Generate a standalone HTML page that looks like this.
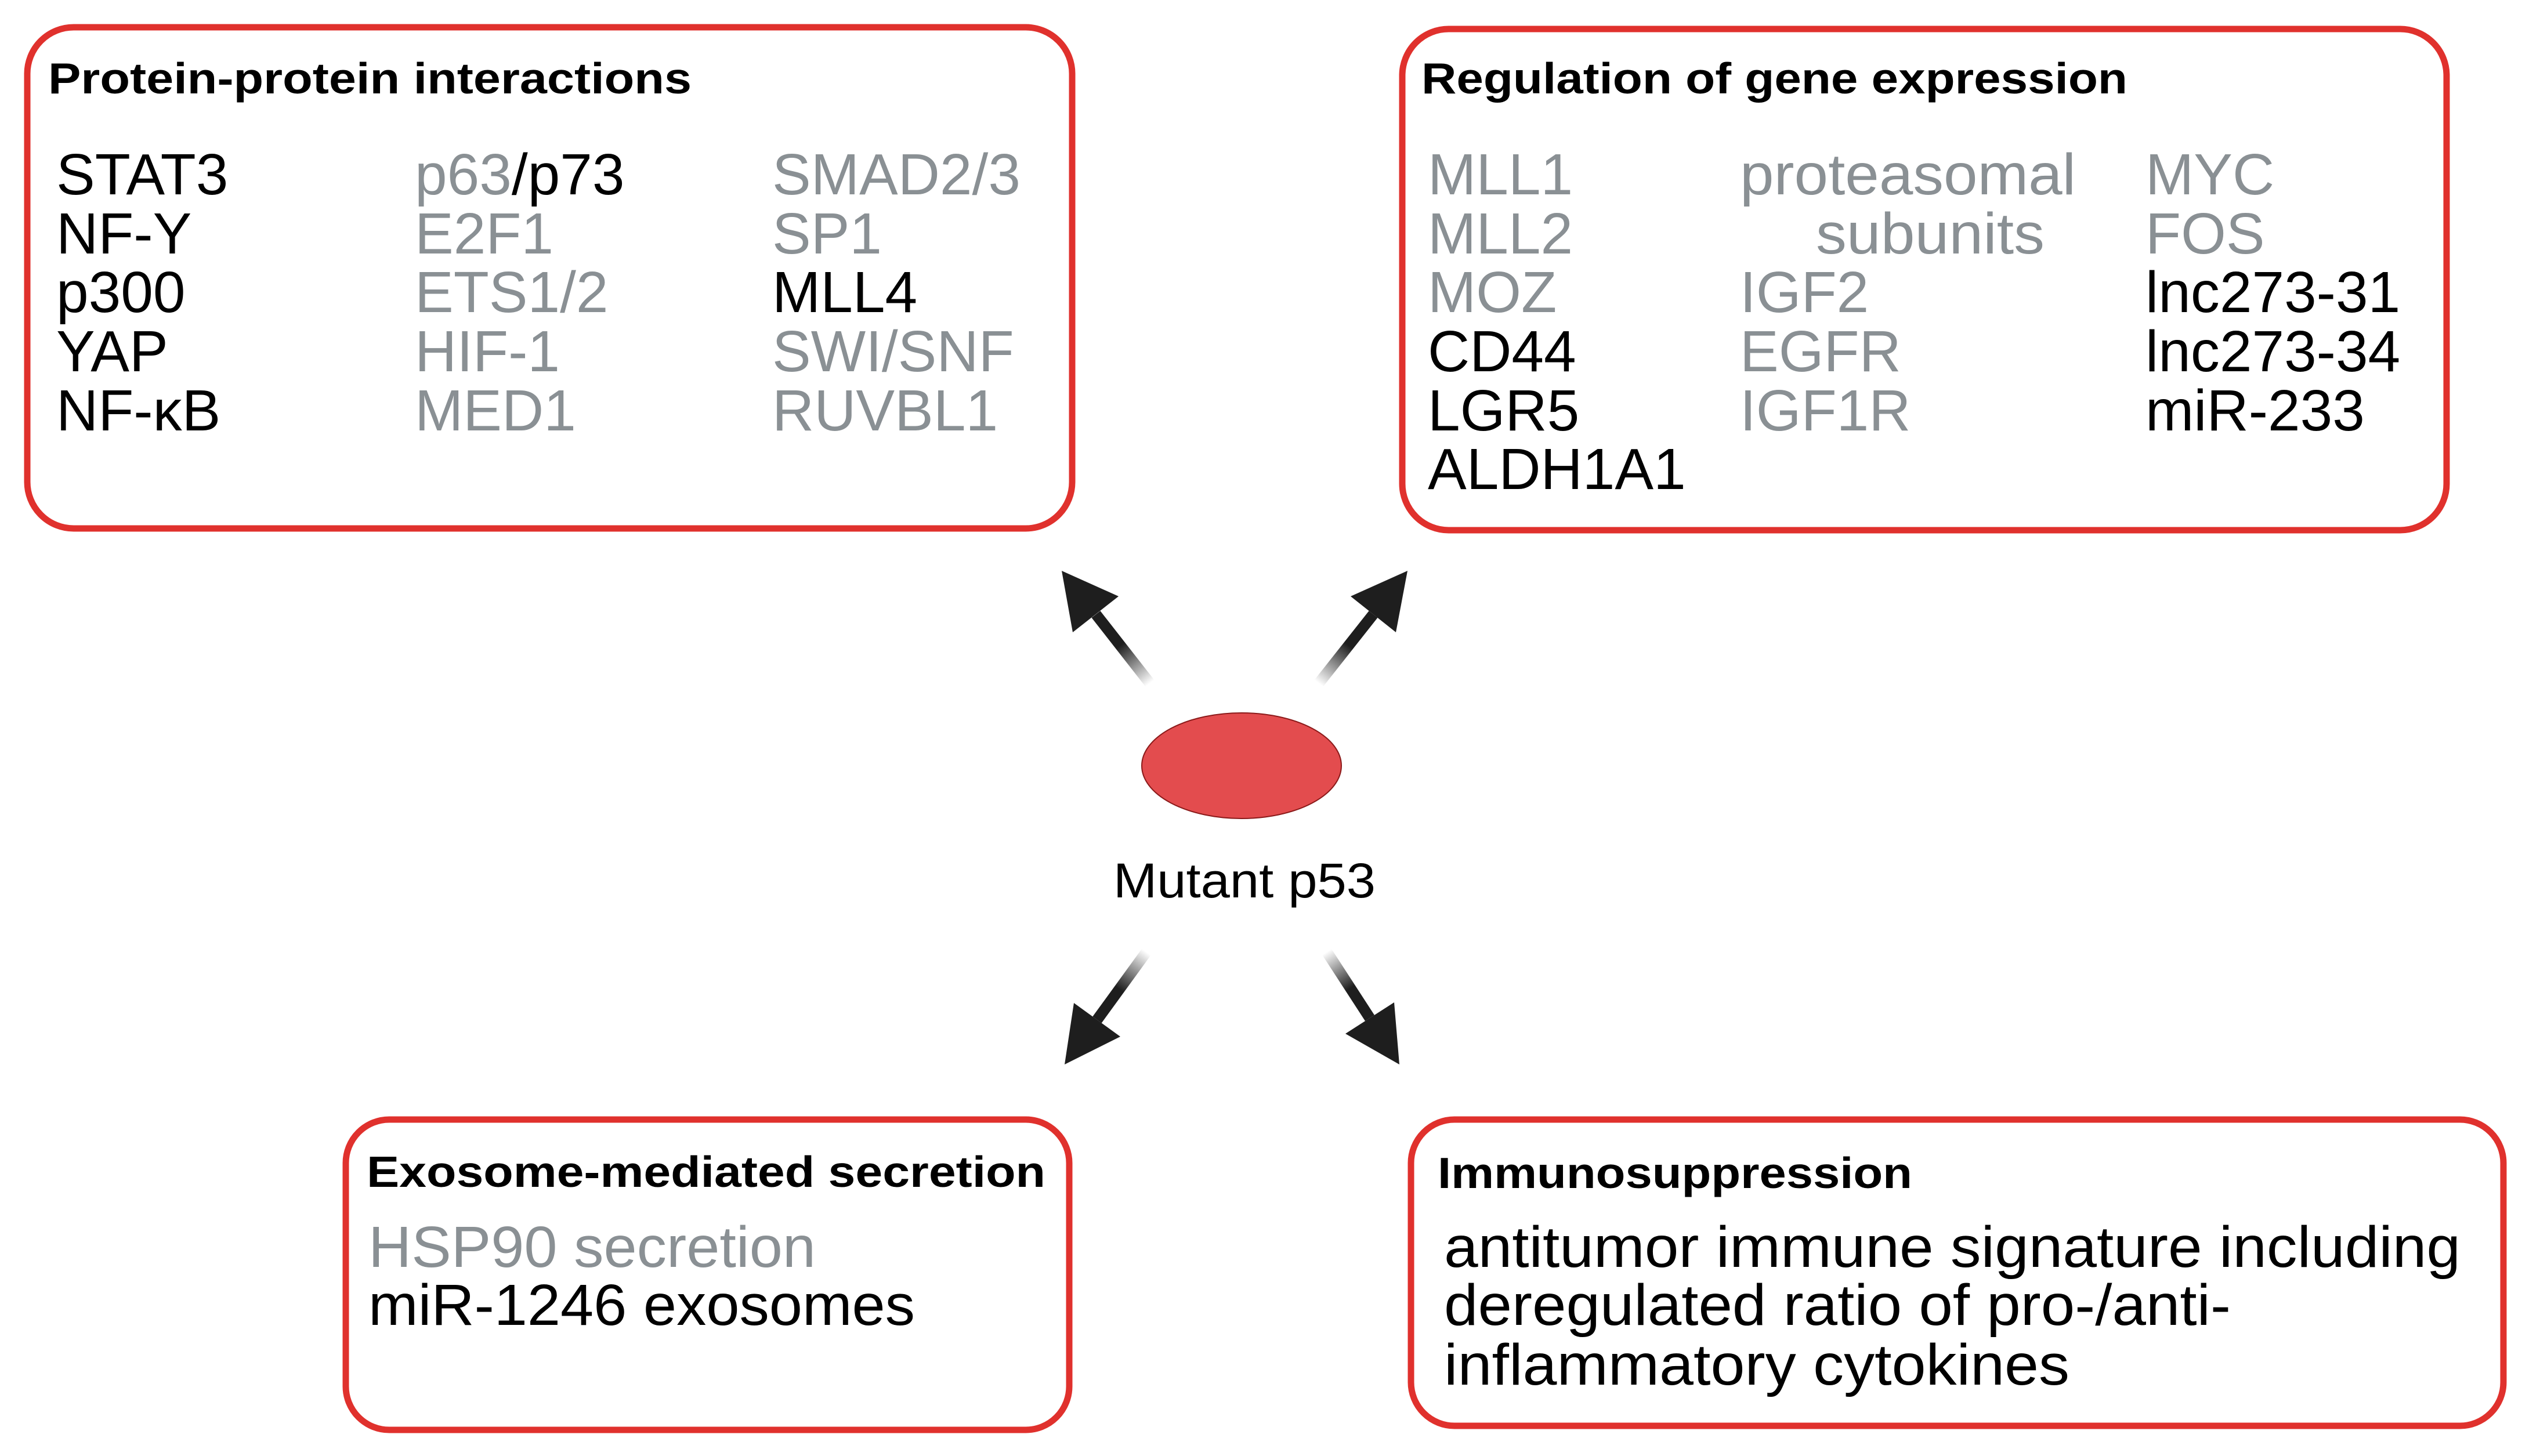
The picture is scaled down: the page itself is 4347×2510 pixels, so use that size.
<!DOCTYPE html>
<html><head><meta charset="utf-8"><style>
html,body{margin:0;padding:0;background:#fff;}
svg{display:block;}
text{font-family:"Liberation Sans",sans-serif;}
.t{font-weight:bold;font-size:75px;fill:#000;}
.b{font-size:100px;fill:#000;}
.g{font-size:100px;fill:#8a9094;}
</style></head><body>
<svg width="4347" height="2510" viewBox="0 0 4347 2510" xmlns="http://www.w3.org/2000/svg">
<defs>
<linearGradient id="a1" gradientUnits="userSpaceOnUse" x1="1982" y1="1178" x2="1889" y2="1059"><stop offset="0" stop-color="#fff"/><stop offset="0.55" stop-color="#1e1e1e"/></linearGradient>
<linearGradient id="a2" gradientUnits="userSpaceOnUse" x1="2273" y1="1178" x2="2367" y2="1059"><stop offset="0" stop-color="#fff"/><stop offset="0.55" stop-color="#1e1e1e"/></linearGradient>
<linearGradient id="a3" gradientUnits="userSpaceOnUse" x1="1976" y1="1641" x2="1891" y2="1758"><stop offset="0" stop-color="#fff"/><stop offset="0.55" stop-color="#1e1e1e"/></linearGradient>
<linearGradient id="a4" gradientUnits="userSpaceOnUse" x1="2287" y1="1641" x2="2361" y2="1755"><stop offset="0" stop-color="#fff"/><stop offset="0.55" stop-color="#1e1e1e"/></linearGradient>
</defs>

<!-- Boxes -->
<rect x="47" y="47" width="1801" height="864" rx="80" fill="#fff" stroke="#e0312d" stroke-width="11"/>
<rect x="2417" y="50" width="1800" height="864" rx="80" fill="#fff" stroke="#e0312d" stroke-width="11"/>
<rect x="596" y="1930" width="1247" height="535" rx="75" fill="#fff" stroke="#e0312d" stroke-width="11"/>
<rect x="2432" y="1930" width="1883" height="528" rx="75" fill="#fff" stroke="#e0312d" stroke-width="11"/>

<!-- Box 1 -->
<text class="t" x="83" y="161" textLength="1109" lengthAdjust="spacingAndGlyphs">Protein-protein interactions</text>
<text class="b" x="97" y="335">STAT3</text>
<text class="b" x="97" y="437">NF-Y</text>
<text class="b" x="97" y="538">p300</text>
<text class="b" x="97" y="640">YAP</text>
<text class="b" x="97" y="742">NF-κB</text>
<text x="715" y="335" style="font-size:100px"><tspan fill="#8a9094">p63</tspan><tspan fill="#000">/p73</tspan></text>
<text class="g" x="715" y="437">E2F1</text>
<text class="g" x="715" y="538">ETS1/2</text>
<text class="g" x="715" y="640">HIF-1</text>
<text class="g" x="715" y="742">MED1</text>
<text class="g" x="1331" y="335">SMAD2/3</text>
<text class="g" x="1331" y="437">SP1</text>
<text class="b" x="1331" y="538">MLL4</text>
<text class="g" x="1331" y="640">SWI/SNF</text>
<text class="g" x="1331" y="742">RUVBL1</text>

<!-- Box 2 -->
<text class="t" x="2450" y="161" textLength="1217" lengthAdjust="spacingAndGlyphs">Regulation of gene expression</text>
<text class="g" x="2461" y="335">MLL1</text>
<text class="g" x="2461" y="437">MLL2</text>
<text class="g" x="2461" y="538">MOZ</text>
<text class="b" x="2461" y="640">CD44</text>
<text class="b" x="2461" y="742">LGR5</text>
<text class="b" x="2461" y="843">ALDH1A1</text>
<text class="g" x="2999" y="335" textLength="579" lengthAdjust="spacingAndGlyphs">proteasomal</text>
<text class="g" x="3130" y="437" textLength="394" lengthAdjust="spacingAndGlyphs">subunits</text>
<text class="g" x="2999" y="538">IGF2</text>
<text class="g" x="2999" y="640">EGFR</text>
<text class="g" x="2999" y="742">IGF1R</text>
<text class="g" x="3698" y="335">MYC</text>
<text class="g" x="3698" y="437">FOS</text>
<text class="b" x="3698" y="538">lnc273-31</text>
<text class="b" x="3698" y="640">lnc273-34</text>
<text class="b" x="3698" y="742">miR-233</text>

<!-- Box 3 -->
<text class="t" x="632" y="2046" textLength="1170" lengthAdjust="spacingAndGlyphs">Exosome-mediated secretion</text>
<text class="g" x="635" y="2184" textLength="771" lengthAdjust="spacingAndGlyphs">HSP90 secretion</text>
<text class="b" x="635" y="2284" textLength="942" lengthAdjust="spacingAndGlyphs">miR-1246 exosomes</text>

<!-- Box 4 -->
<text class="t" x="2478" y="2048" textLength="818" lengthAdjust="spacingAndGlyphs">Immunosuppression</text>
<text class="b" x="2489" y="2184" textLength="1752" lengthAdjust="spacingAndGlyphs">antitumor immune signature including</text>
<text class="b" x="2489" y="2284" textLength="1356" lengthAdjust="spacingAndGlyphs">deregulated ratio of pro-/anti-</text>
<text class="b" x="2489" y="2387" textLength="1078" lengthAdjust="spacingAndGlyphs">inflammatory cytokines</text>

<!-- Center -->
<ellipse cx="2140" cy="1320" rx="172" ry="91" fill="#e34c4e" stroke="#8b1a1a" stroke-width="2"/>
<text x="1919" y="1547" textLength="452" lengthAdjust="spacingAndGlyphs" style="font-size:84px;fill:#000">Mutant p53</text>

<!-- Arrows -->
<line x1="1982" y1="1178" x2="1889" y2="1059" stroke="url(#a1)" stroke-width="19"/>
<polygon points="1830,984 1928,1028 1849,1090" fill="#1e1e1e"/>
<line x1="2273" y1="1178" x2="2367" y2="1059" stroke="url(#a2)" stroke-width="19"/>
<polygon points="2426,984 2406,1090 2328,1028" fill="#1e1e1e"/>
<line x1="1976" y1="1641" x2="1891" y2="1758" stroke="url(#a3)" stroke-width="19"/>
<polygon points="1835,1835 1931,1787 1851,1729" fill="#1e1e1e"/>
<line x1="2287" y1="1641" x2="2361" y2="1755" stroke="url(#a4)" stroke-width="19"/>
<polygon points="2412,1835 2403,1728 2319,1782" fill="#1e1e1e"/>
</svg>
</body></html>
